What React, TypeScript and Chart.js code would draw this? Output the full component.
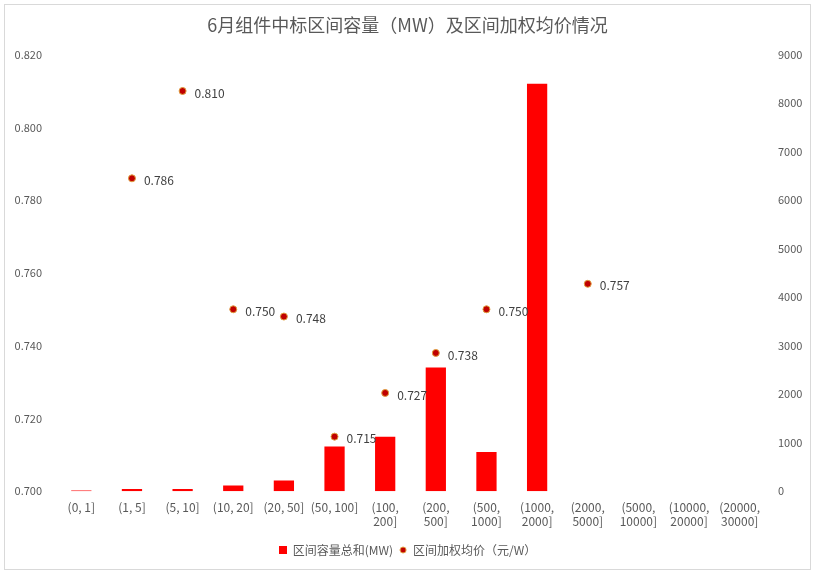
import { useEffect, useRef } from "react"
import { Chart, registerables } from "chart.js"

Chart.register(...registerables)

const categories: string[][] = [
  ["(0, 1]"],
  ["(1, 5]"],
  ["(5, 10]"],
  ["(10, 20]"],
  ["(20, 50]"],
  ["(50, 100]"],
  ["(100,", "200]"],
  ["(200,", "500]"],
  ["(500,", "1000]"],
  ["(1000,", "2000]"],
  ["(2000,", "5000]"],
  ["(5000,", "10000]"],
  ["(10000,", "20000]"],
  ["(20000,", "30000]"],
]

// 区间容量总和 (MW)
const capacity = [12, 45, 45, 120, 220, 920, 1120, 2550, 810, 8400, 0, 0, 0, 0]

// 区间加权均价（元/W）
const avgPrice: (number | null)[] = [
  null, 0.786, 0.81, 0.75, 0.748, 0.715, 0.727, 0.738, 0.75, null, 0.757, null, null, null,
]

const FONT = "'Noto Sans CJK SC', 'Open Sans', sans-serif"
const TEXT = "#595959"

// small legend markers
function squareIcon() {
  const c = document.createElement("canvas")
  c.width = 8
  c.height = 8
  const g = c.getContext("2d")!
  g.fillStyle = "#ff0000"
  g.fillRect(0, 0, 8, 8)
  return c
}

function dotIcon() {
  const c = document.createElement("canvas")
  c.width = 8
  c.height = 8
  const g = c.getContext("2d")!
  g.beginPath()
  g.arc(4, 4, 3, 0, Math.PI * 2)
  g.fillStyle = "#c00000"
  g.fill()
  g.strokeStyle = "#e0a040"
  g.lineWidth = 1
  g.stroke()
  return c
}

const pointLabels = {
  id: "pointLabels",
  afterDatasetsDraw(chart: Chart) {
    const ctx = chart.ctx
    const meta = chart.getDatasetMeta(1)
    ctx.save()
    ctx.font = `12px ${FONT}`
    ctx.fillStyle = "#404040"
    ctx.textAlign = "left"
    ctx.textBaseline = "middle"
    meta.data.forEach((el, i) => {
      const v = avgPrice[i]
      if (v == null) return
      ctx.fillText(v.toFixed(3), el.x + 12, el.y + 2)
    })
    ctx.restore()
  },
}

export default function App() {
  const chartRef = useRef<HTMLCanvasElement>(null)
  const chartInstance = useRef<Chart | null>(null)

  useEffect(() => {
    if (!chartRef.current) return
    if (chartInstance.current) chartInstance.current.destroy()

    const sq = squareIcon()
    const dot = dotIcon()

    chartInstance.current = new Chart(chartRef.current, {
      type: "bar",
      data: {
        labels: categories,
        datasets: [
          {
            type: "bar",
            label: "区间容量总和(MW)",
            data: capacity,
            backgroundColor: "#ff0000",
            barPercentage: 0.8,
            categoryPercentage: 0.5,
            yAxisID: "y1",
            order: 2,
          },
          {
            type: "line",
            label: "区间加权均价（元/W）",
            data: avgPrice,
            showLine: false,
            pointRadius: 3.5,
            pointBackgroundColor: "#c00000",
            pointBorderColor: "#e0a040",
            pointBorderWidth: 1,
            pointStyle: "circle",
            yAxisID: "y",
            order: 1,
          },
        ],
      },
      options: {
        animation: false,
        responsive: false,
        layout: { padding: { left: 7, right: 7, top: 0, bottom: 3 } },
        scales: {
          x: {
            grid: { display: false, drawTicks: false },
            border: { display: false },
            ticks: {
              color: TEXT,
              padding: 9,
              font: { family: FONT, size: 12, lineHeight: 1.2 },
              maxRotation: 0,
              autoSkip: false,
            },
          },
          y: {
            position: "left",
            min: 0.7,
            max: 0.82,
            grid: { display: false, drawTicks: false },
            border: { display: false },
            ticks: {
              stepSize: 0.02,
              color: TEXT,
              padding: 14,
              font: { family: FONT, size: 11 },
              callback: (v) => Number(v).toFixed(3),
            },
            afterFit: (s) => {
              s.width = 44
            },
          },
          y1: {
            position: "right",
            min: 0,
            max: 9000,
            grid: { display: false, drawTicks: false },
            border: { display: false },
            ticks: {
              stepSize: 1000,
              color: TEXT,
              padding: 13,
              font: { family: FONT, size: 11 },
              callback: (v) => String(v),
            },
            afterFit: (s) => {
              s.width = 38
            },
          },
        },
        plugins: {
          title: {
            display: true,
            text: "6月组件中标区间容量（MW）及区间加权均价情况",
            color: TEXT,
            font: { family: FONT, size: 18, weight: "normal" },
            padding: { top: 9, bottom: 19 },
          },
          legend: {
            position: "bottom",
            labels: {
              usePointStyle: true,
              boxWidth: 8,
              boxHeight: 8,
              padding: 6,
              color: TEXT,
              font: { family: FONT, size: 12 },
              sort: (a, b) => (a.datasetIndex ?? 0) - (b.datasetIndex ?? 0),
              generateLabels: (chart) => {
                const items = Chart.defaults.plugins.legend.labels.generateLabels(chart)
                items.forEach((it) => {
                  it.pointStyle = it.datasetIndex === 0 ? sq : dot
                })
                return items
              },
            },
          },
          tooltip: { enabled: false },
        },
      },
      plugins: [pointLabels],
    })

    return () => {
      if (chartInstance.current) chartInstance.current.destroy()
    }
  }, [])

  return (
    <div style={{ position: "fixed", left: 0, top: 0, width: 815, height: 576, background: "#fff" }}>
      <div
        style={{
          position: "absolute",
          left: 4,
          top: 4,
          width: 805,
          height: 564,
          border: "1px solid #d9d9d9",
        }}
      >
        <canvas ref={chartRef} width={805} height={564} style={{ display: "block" }} />
      </div>
    </div>
  )
}
